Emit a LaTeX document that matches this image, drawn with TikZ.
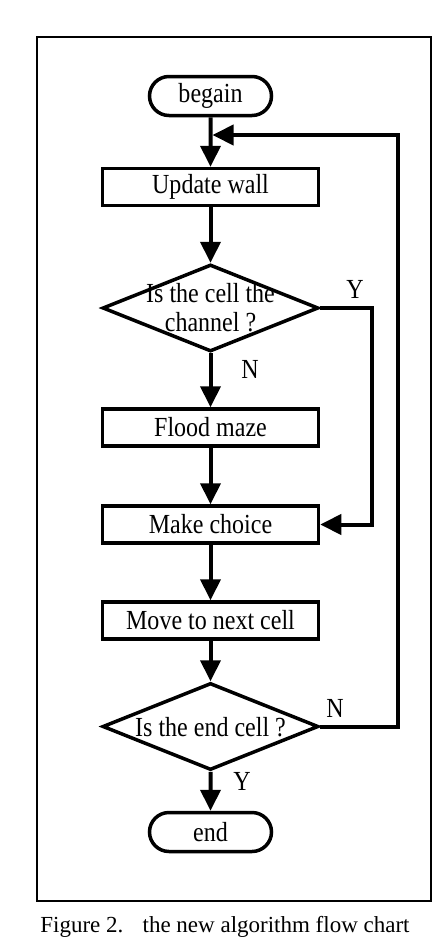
\documentclass[tikz,border=0pt]{standalone}
\usepackage{fontspec}
\setmainfont{Liberation Serif}
\newfontfamily\tallfont{Liberation Serif}[FakeStretch=0.87]
\usetikzlibrary{arrows.meta,shapes.geometric,shapes.misc}
\tikzset{
  box/.style={draw,line width=3.5pt,minimum width=216pt,minimum height=37pt,inner sep=0pt,font=\tallfont\fontsize{27.6}{29}\selectfont},
  pill/.style={draw,line width=3.5pt,rounded rectangle,minimum width=122pt,minimum height=39pt,inner sep=0pt,font=\tallfont\fontsize{27.6}{29}\selectfont},
  dia/.style={draw,line width=3.5pt,diamond,minimum width=216pt,minimum height=87pt,inner sep=0pt},
  txt/.style={font=\tallfont\fontsize{27.6}{29}\selectfont,align=center,inner sep=0pt},
  arr/.style={line width=4pt,-{Triangle[length=21pt,width=20pt]}},
  con/.style={line width=4pt}
}
\begin{document}
\begin{tikzpicture}[x=1pt,y=-1pt]
\useasboundingbox (0,0) rectangle (434,938);
\draw[line width=2.7pt] (37,37) rectangle (431,901);
\node[pill] (beg) at (210.5,96) {begain};
\node[box] (upd) at (210.5,187) {Update wall};
\node[dia] (d1) at (210.5,308) {};
\node[txt] (d1t) at (210.5,308) {Is the cell the\\channel ?};
\node[box] (fl) at (210.5,427.5) {Flood maze};
\node[box] (mc) at (210.5,524.5) {Make choice};
\node[box] (mv) at (210.5,620.5) {Move to next cell};
\node[dia] (d2) at (210.5,726.5) {};
\node[txt] (d2t) at (210.5,727) {Is the end cell ?};
\node[pill] (end) at (210.5,832) {end};
\node[txt] (ly1) at (355,289) {Y};
\node[txt] (ln1) at (250,369) {N};
\node[txt] (ln2) at (335,708) {N};
\node[txt] (ly2) at (242,781) {Y};
\node[inner sep=0pt,font=\fontsize{23}{27}\selectfont] (cap) at (225,927) {Figure 2.\hspace{0.5em} the new algorithm flow chart};
\coordinate (ry) at (372,308);
\coordinate (r1) at (398,135);
\coordinate (fb) at (210.5,135);
\draw[arr] (beg) -- (upd);
\draw[arr] (upd) -- (d1);
\draw[arr] (d1) -- (fl);
\draw[arr] (fl) -- (mc);
\draw[arr] (mc) -- (mv);
\draw[arr] (mv) -- (d2);
\draw[arr] (d2) -- (end);
\draw[arr] (d1.east) -- (ry) |- (mc.east);
\draw[arr] (d2.east) -| (r1) -- ([xshift=2pt]fb);
\end{tikzpicture}
\end{document}
